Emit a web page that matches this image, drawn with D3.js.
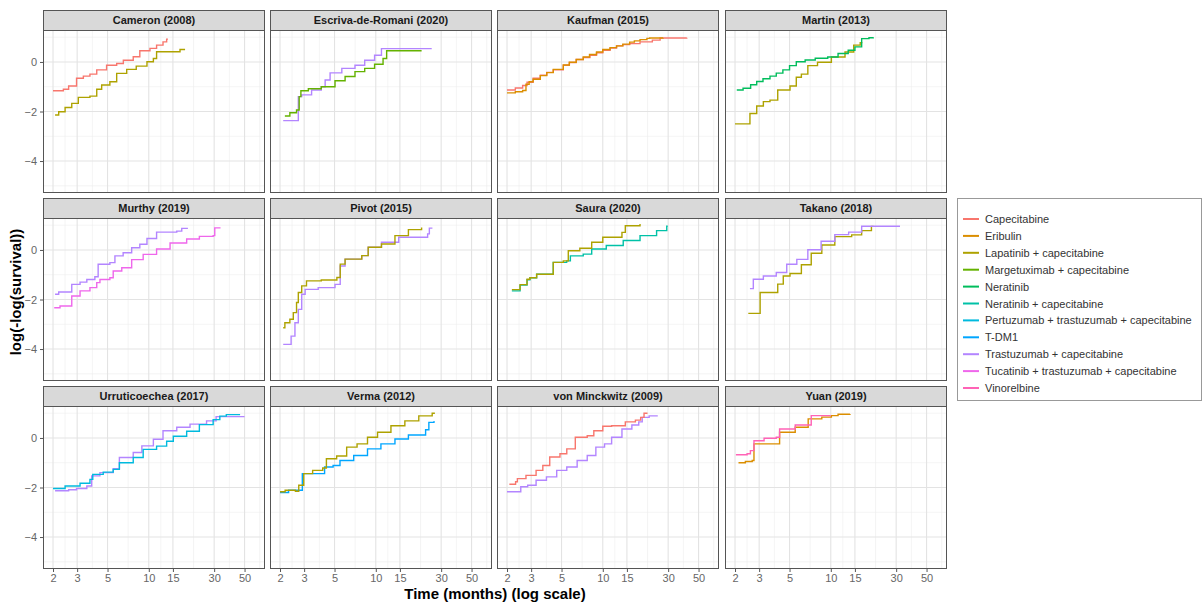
<!DOCTYPE html>
<html><head><meta charset="utf-8">
<script src="https://cdn.jsdelivr.net/npm/d3@7"></script>
<style>
html,body{margin:0;padding:0;background:#fff;}
text{font-family:"Liberation Sans",Arial,sans-serif;}
</style></head>
<body><svg id="chart" width="1203" height="603"></svg>
<script>
// ---------- data ----------
const treatments = ["Capecitabine","Eribulin","Lapatinib + capecitabine","Margetuximab + capecitabine","Neratinib","Neratinib + capecitabine","Pertuzumab + trastuzumab + capecitabine","T-DM1","Trastuzumab + capecitabine","Tucatinib + trastuzumab + capecitabine","Vinorelbine"];
const treatmentColors = ["#F8766D","#DB8E00","#AEA200","#64B200","#00BD5C","#00C1A7","#00BADE","#00A6FF","#B385FF","#EF67EB","#FF63B6"];
const studies = ["Cameron (2008)","Escriva-de-Romani (2020)","Kaufman (2015)","Martin (2013)","Murthy (2019)","Pivot (2015)","Saura (2020)","Takano (2018)","Urruticoechea (2017)","Verma (2012)","von Minckwitz (2009)","Yuan (2019)"];
const xTickValues = [2,3,5,10,15,30,50];
const yTickValues = [-4,-2,0];

// [time (months), log(-log(survival))]
const cameronCap = [[2.0,-1.16],[2.38,-1.10],[2.6,-0.97],[2.97,-0.66],[3.33,-0.57],[3.72,-0.49],[4.17,-0.32],[4.92,-0.13],[5.83,-0.06],[6.52,0.07],[7.7,0.21],[8.6,0.45],[10.2,0.55],[11.4,0.68],[12.7,0.81],[13.5,0.92],[13.8,0.92]];
const cameronLap = [[2.07,-2.14],[2.2,-2.01],[2.45,-1.84],[2.74,-1.67],[3.06,-1.43],[3.72,-1.38],[4.17,-1.1],[4.53,-0.93],[5.2,-0.8],[5.83,-0.46],[6.9,-0.3],[8.1,-0.17],[9.7,0.01],[10.8,0.14],[11.4,0.41],[16.9,0.5],[18.4,0.5]];
const escrivaTras = [[2.11,-2.37],[2.72,-1.40],[2.88,-1.33],[3.4,-1.13],[4.0,-1.0],[4.27,-0.73],[4.64,-0.44],[5.65,-0.26],[7.05,-0.13],[8.3,0.07],[9.8,0.27],[11.0,0.54],[25.6,0.54]];
const escrivaMarg = [[2.17,-2.18],[2.36,-2.05],[2.64,-1.94],[2.76,-1.40],[2.84,-1.16],[3.22,-1.08],[4.0,-1.0],[5.04,-0.76],[5.97,-0.59],[7.05,-0.39],[8.3,-0.26],[9.8,-0.09],[11.3,0.14],[12.0,0.45],[21.6,0.45]];
const kaufmanCap = [[2.0,-1.13],[2.3,-1.05],[2.6,-0.95],[2.8,-0.82],[3.1,-0.66],[3.5,-0.53],[3.9,-0.42],[4.35,-0.32],[5.15,-0.13],[5.7,-0.02],[6.4,0.1],[7.2,0.18],[8.05,0.27],[9.0,0.37],[10.0,0.47],[11.3,0.56],[12.6,0.65],[14,0.7],[15.7,0.74],[18.7,0.81],[23,0.88],[26.2,0.97],[41,0.98]];
const kaufmanEri = [[2.0,-1.25],[2.3,-1.2],[2.6,-1.15],[2.75,-0.9],[2.9,-0.8],[3.1,-0.7],[3.5,-0.55],[3.9,-0.43],[4.35,-0.3],[5.15,-0.12],[5.7,-0.01],[6.4,0.1],[7.2,0.2],[8.0,0.3],[9.0,0.4],[10,0.5],[11.3,0.58],[12.6,0.65],[14,0.72],[15.7,0.8],[17,0.85],[18.7,0.9],[21,0.95],[22,0.97],[27.5,0.98]];
const martinNer = [[2.06,-1.13],[2.29,-1.06],[2.6,-0.92],[2.88,-0.79],[3.2,-0.68],[3.6,-0.57],[4.0,-0.45],[4.47,-0.32],[5.0,-0.15],[5.6,0.01],[6.5,0.08],[7.7,0.15],[9.5,0.2],[11.3,0.34],[13.4,0.47],[15,0.61],[16.8,0.94],[19,0.98],[20.4,1.0]];
const martinLap = [[2.0,-2.5],[2.57,-2.08],[2.88,-1.78],[3.22,-1.6],[3.6,-1.54],[4.1,-1.13],[5.04,-0.97],[5.6,-0.62],[6.1,-0.49],[6.8,-0.15],[8.0,-0.01],[10.1,0.2],[12.7,0.4],[14.7,0.68],[16.4,0.78],[17,0.78]];
const murthyTras = [[2.07,-1.79],[2.2,-1.7],[2.74,-1.39],[3.15,-1.3],[3.53,-1.19],[4.04,-1.08],[4.27,-0.58],[5.2,-0.51],[5.66,-0.24],[6.5,-0.11],[7.5,0.09],[8.6,0.23],[9.7,0.46],[11.4,0.72],[16,0.76],[17.4,0.87],[19.3,0.87]];
const murthyTuc = [[2.04,-2.33],[2.25,-2.26],[2.74,-1.86],[3.15,-1.65],[3.72,-1.52],[4.17,-1.32],[4.4,-1.19],[5.2,-1.12],[5.5,-0.85],[6.35,-0.72],[7.5,-0.39],[9.1,-0.18],[11.4,0.04],[14.3,0.28],[18.9,0.44],[23.4,0.55],[29.5,0.58],[30.3,0.89],[33,0.92]];
const pivotLap = [[2.11,-3.14],[2.17,-2.94],[2.36,-2.8],[2.5,-2.53],[2.64,-2.12],[2.72,-1.72],[2.88,-1.45],[3.12,-1.25],[4.0,-1.21],[5.2,-1.11],[5.5,-0.57],[5.97,-0.37],[7.9,-0.23],[8.8,0.11],[11.0,0.24],[13.8,0.58],[17.3,0.82],[21.6,0.91]];
const pivotTras = [[2.11,-3.81],[2.41,-3.48],[2.57,-2.94],[2.72,-2.4],[2.88,-1.79],[3.05,-1.59],[3.8,-1.52],[5.04,-1.39],[5.5,-0.65],[5.97,-0.37],[7.9,-0.23],[8.8,0.11],[11,0.31],[14.7,0.51],[23.9,0.65],[24.6,0.88],[25.9,0.88]];
const sauraLap = [[2.17,-1.6],[2.49,-1.4],[2.8,-1.18],[2.94,-1.12],[3.29,-0.98],[4.35,-0.5],[5.15,-0.44],[5.6,-0.03],[6.8,0.07],[8.3,0.31],[10,0.51],[13.8,0.71],[14.6,0.98],[18.7,1.05]];
const sauraNer = [[2.17,-1.65],[2.49,-1.42],[2.8,-1.2],[2.94,-1.12],[3.29,-0.98],[4.35,-0.5],[5.45,-0.44],[5.8,-0.24],[7.2,-0.17],[8.3,0.04],[10.6,0.18],[14.1,0.38],[18.7,0.58],[24.7,0.78],[29.3,0.96],[29.8,0.96]];
const takanoTras = [[2.57,-1.56],[2.72,-1.18],[3.22,-1.05],[4.0,-0.91],[4.77,-0.58],[5.65,-0.38],[6.8,0.01],[8.5,0.35],[10.7,0.62],[13.5,0.72],[16.8,0.96],[32,0.96]];
const takanoLap = [[2.5,-2.56],[3.05,-1.72],[4.1,-1.38],[4.5,-1.05],[5.04,-0.95],[6.1,-0.6],[7.2,-0.13],[8.6,0.2],[10.7,0.54],[14.2,0.61],[16.8,0.78],[19.8,0.95],[20.5,0.95]];
const urruPert = [[2.0,-2.04],[2.45,-1.94],[3.15,-1.83],[3.72,-1.67],[3.9,-1.47],[4.65,-1.38],[5.5,-1.27],[6.1,-1.0],[7.7,-0.79],[9.1,-0.46],[11.4,-0.33],[13.5,-0.13],[15.1,0.07],[18.9,0.27],[23.4,0.54],[29.5,0.74],[33,0.88],[36.8,0.94],[46.4,0.94]];
const urruTras = [[2.07,-2.13],[2.6,-2.09],[2.97,-2.04],[3.53,-1.94],[3.83,-1.53],[4.4,-1.4],[5.5,-1.24],[6.1,-0.79],[7.7,-0.59],[8.9,-0.32],[10.8,-0.05],[12.7,0.29],[16,0.43],[20,0.56],[26.4,0.69],[31,0.86],[50,0.86]];
const vermaLap = [[2.0,-2.17],[2.18,-2.11],[2.59,-2.15],[2.74,-1.91],[2.98,-1.44],[3.46,-1.31],[4.1,-1.21],[4.36,-0.84],[5.18,-0.73],[6.13,-0.37],[7.3,-0.24],[8.7,0.03],[10.3,0.23],[12.9,0.49],[16.3,0.69],[20.6,0.89],[25.8,1.0],[27,1.0]];
const vermaTdm = [[2.0,-2.2],[2.31,-2.11],[2.91,-1.44],[4.23,-1.17],[4.88,-1.11],[5.48,-0.91],[6.9,-0.71],[8.7,-0.44],[10.9,-0.24],[13.8,-0.04],[17.3,0.12],[23.1,0.33],[24.4,0.63],[26.5,0.65],[27,0.65]];
const vonMCap = [[2.08,-1.87],[2.31,-1.77],[2.38,-1.64],[2.75,-1.51],[3.26,-1.31],[3.65,-1.11],[4.1,-0.77],[4.87,-0.64],[5.46,-0.44],[6.3,0.03],[7.7,0.09],[8.6,0.29],[10,0.47],[11.6,0.49],[14.6,0.65],[17.3,0.72],[18.9,0.83],[20,1.0],[21.2,1.0]];
const vonMTras = [[2.0,-2.17],[2.52,-1.97],[2.83,-1.91],[3.26,-1.71],[3.88,-1.57],[4.61,-1.31],[5.46,-1.17],[6.5,-0.91],[7.7,-0.71],[8.9,-0.37],[10.3,-0.24],[11.6,0.03],[13.8,0.36],[16.3,0.52],[18.3,0.65],[19.4,0.83],[21.8,0.89],[25.2,0.89]];
const yuanVin = [[2.03,-0.68],[2.45,-0.64],[2.59,-0.51],[2.75,-0.11],[3.26,-0.01],[4.0,0.03],[4.23,0.36],[5.5,0.52],[7.2,0.9],[10,0.9]];
const yuanEri = [[2.12,-1.0],[2.38,-0.95],[2.67,-0.91],[2.75,-0.24],[4.23,0.23],[5.5,0.43],[6.84,0.77],[8.6,0.84],[10.1,0.9],[11.3,0.96],[13.8,0.97]];

const panelSeries = [
  [["Capecitabine",cameronCap],["Lapatinib + capecitabine",cameronLap]],
  [["Trastuzumab + capecitabine",escrivaTras],["Margetuximab + capecitabine",escrivaMarg]],
  [["Capecitabine",kaufmanCap],["Eribulin",kaufmanEri]],
  [["Lapatinib + capecitabine",martinLap],["Neratinib",martinNer]],
  [["Trastuzumab + capecitabine",murthyTras],["Tucatinib + trastuzumab + capecitabine",murthyTuc]],
  [["Trastuzumab + capecitabine",pivotTras],["Lapatinib + capecitabine",pivotLap]],
  [["Neratinib + capecitabine",sauraNer],["Lapatinib + capecitabine",sauraLap]],
  [["Lapatinib + capecitabine",takanoLap],["Trastuzumab + capecitabine",takanoTras]],
  [["Trastuzumab + capecitabine",urruTras],["Pertuzumab + trastuzumab + capecitabine",urruPert]],
  [["T-DM1",vermaTdm],["Lapatinib + capecitabine",vermaLap]],
  [["Trastuzumab + capecitabine",vonMTras],["Capecitabine",vonMCap]],
  [["Eribulin",yuanEri],["Vinorelbine",yuanVin]]
];

// ---------- layout ----------
const svg = d3.select("#chart");
const colLeft = [43, 270, 497, 725];
const rowTop = [10, 198, 386];
const pw = 222, ph = 163, stripH = 20;
const color = d3.scaleOrdinal().domain(treatments).range(treatmentColors);

const x = d3.scaleLog().domain([1.69, 70.5]).range([0, pw]);
const y = d3.scaleLinear().domain([-5.29, 1.29]).range([ph, 0]);

// minor breaks: geometric midpoints between majors (+ one beyond ends)
const lx = xTickValues.map(Math.log);
const xMinor = [];
for (let i = 0; i < lx.length - 1; i++) xMinor.push(Math.exp((lx[i] + lx[i+1]) / 2));
xMinor.push(Math.exp(lx[lx.length-1] + (lx[lx.length-1]-lx[lx.length-2]) / 2));
const yMinor = [-5, -3, -1, 1];

const line = d3.line().x(d => x(d[0])).y(d => y(d[1])).curve(d3.curveStepAfter);

studies.forEach((name, i) => {
  const c = i % 4, r = Math.floor(i / 4);
  const g = svg.append("g").attr("transform", `translate(${colLeft[c]},${rowTop[r] + stripH})`);
  // strip
  svg.append("rect").attr("x", colLeft[c] + 0.5).attr("y", rowTop[r] + 0.5)
    .attr("width", pw - 1).attr("height", stripH)
    .attr("fill", "#d9d9d9").attr("stroke", "#555").attr("stroke-width", 1);
  svg.append("text").attr("x", colLeft[c] + pw / 2).attr("y", rowTop[r] + 14)
    .attr("text-anchor", "middle").attr("font-size", 11).attr("font-weight", "bold")
    .attr("fill", "#1a1a1a").text(name);
  // panel bg
  g.append("rect").attr("width", pw).attr("height", ph).attr("fill", "#fff");
  // grid
  g.selectAll(".xmin").data(xMinor.filter(v => x(v) < pw)).join("line")
    .attr("x1", d => x(d)).attr("x2", d => x(d)).attr("y1", 0).attr("y2", ph)
    .attr("stroke", "#ececec").attr("stroke-width", 0.6);
  g.selectAll(".ymin").data(yMinor).join("line")
    .attr("x1", 0).attr("x2", pw).attr("y1", d => y(d)).attr("y2", d => y(d))
    .attr("stroke", "#ececec").attr("stroke-width", 0.6);
  g.selectAll(".xmaj").data(xTickValues).join("line")
    .attr("x1", d => x(d)).attr("x2", d => x(d)).attr("y1", 0).attr("y2", ph)
    .attr("stroke", "#e3e3e3").attr("stroke-width", 1.1);
  g.selectAll(".ymaj").data(yTickValues).join("line")
    .attr("x1", 0).attr("x2", pw).attr("y1", d => y(d)).attr("y2", d => y(d))
    .attr("stroke", "#e3e3e3").attr("stroke-width", 1.1);
  // series
  panelSeries[i].forEach(([trt, data]) => {
    g.append("path").attr("d", line(data)).attr("fill", "none")
      .attr("stroke", color(trt)).attr("stroke-width", 1.4);
  });
  // border
  g.append("rect").attr("x", 0.5).attr("y", 0.5).attr("width", pw - 1).attr("height", ph - 1)
    .attr("fill", "none").attr("stroke", "#555").attr("stroke-width", 1);
  // axes
  if (c === 0) {
    const ax = g.append("g").call(d3.axisLeft(y).tickValues(yTickValues).tickSize(3).tickPadding(3).tickFormat(d3.format("d")));
    ax.select(".domain").remove();
    ax.selectAll("line").attr("stroke", "#555");
    ax.selectAll("text").attr("font-size", 11).attr("fill", "#666").style("font-family", '"Liberation Sans",Arial,sans-serif');
  }
  if (r === 2) {
    const ax = g.append("g").attr("transform", `translate(0,${ph})`)
      .call(d3.axisBottom(x).tickValues(xTickValues).tickSize(3).tickPadding(2).tickFormat(d3.format("d")));
    ax.select(".domain").remove();
    ax.selectAll("line").attr("stroke", "#555");
    ax.selectAll("text").attr("font-size", 11).attr("fill", "#666").style("font-family", '"Liberation Sans",Arial,sans-serif');
  }
});

// axis titles
svg.append("text").attr("x", 495).attr("y", 599).attr("text-anchor", "middle")
  .attr("font-size", 15).attr("font-weight", "bold").attr("fill", "#000")
  .text("Time (months) (log scale)");
svg.append("text").attr("transform", "translate(21,292) rotate(-90)").attr("text-anchor", "middle")
  .attr("font-size", 15).attr("font-weight", "bold").attr("fill", "#000")
  .text("log(-log(survival))");

// legend
const lg = svg.append("g");
lg.append("rect").attr("x", 957.5).attr("y", 198.5).attr("width", 244).attr("height", 202)
  .attr("fill", "#fff").attr("stroke", "#999").attr("stroke-width", 1);
treatments.forEach((t, i) => {
  const yy = 219 + i * 16.9;
  lg.append("line").attr("x1", 963).attr("x2", 979).attr("y1", yy).attr("y2", yy)
    .attr("stroke", color(t)).attr("stroke-width", 2);
  lg.append("text").attr("x", 985).attr("y", yy + 4).attr("font-size", 11)
    .attr("fill", "#333").text(t);
});
</script></body></html>
